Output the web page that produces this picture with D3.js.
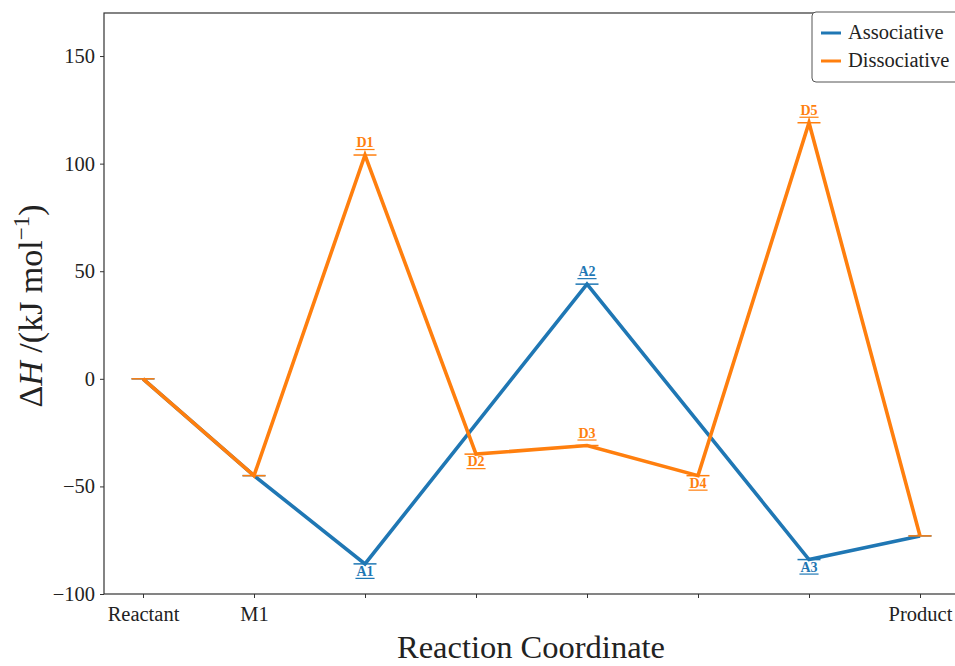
<!DOCTYPE html>
<html>
<head>
<meta charset="utf-8">
<script src="https://cdn.jsdelivr.net/npm/d3@7"></script>
<style>
  html, body { margin: 0; padding: 0; background: #fff; }
  svg { display: block; }
</style>
</head>
<body>
<svg id="chart" width="955" height="666"></svg>
<script>
// Reaction coordinate stages
const stages = ["Reactant", "M1", "TS1", "I1", "TS2", "I2", "TS3", "Product"];
const tickLabels = ["Reactant", "M1", "", "", "", "", "", "Product"];
const yTicks = [-100, -50, 0, 50, 100, 150];

// Enthalpy profiles (kJ/mol); null where a pathway has no stage
const associative = [0, -45, -86, null, 44, null, -84, -73];
const dissociative = [0, -45, 104, -35, -31, -45, 119, -73];

// Stage labels: series, stage index, text, side
const labelSeries = ["A", "A", "A", "D", "D", "D", "D", "D"];
const labelStage = [2, 4, 6, 2, 3, 4, 5, 6];
const labelText = ["A1", "A2", "A3", "D1", "D2", "D3", "D4", "D5"];
const labelSide = ["below", "above", "below", "above", "below", "above", "below", "above"];

const colors = { A: "#1f77b4", D: "#ff7f0e" };
const seriesNames = ["Associative", "Dissociative"];
const SERIF = "'Liberation Serif', 'Times New Roman', serif";

const svg = d3.select("#chart");
const margin = { left: 104, top: 13, right: 959, bottom: 594 };

const x = d3.scalePoint().domain(d3.range(stages.length)).range([143, 920]);
const y = d3.scaleLinear().domain([-100, 170]).range([margin.bottom, margin.top]);

// Axes
const xAxis = d3.axisBottom(x).tickSize(4).tickPadding(4)
  .tickFormat(i => tickLabels[i]);
const yAxis = d3.axisLeft(y).tickValues(yTicks).tickSize(4).tickPadding(5)
  .tickFormat(d => d < 0 ? "\u2212" + Math.abs(d) : d);

const gx = svg.append("g").attr("transform", `translate(0,${margin.bottom})`).call(xAxis);
const gy = svg.append("g").attr("transform", `translate(${margin.left},0)`).call(yAxis);
[gx, gy].forEach(g => {
  g.attr("font-family", SERIF);
  g.select(".domain").remove();
  g.selectAll(".tick line").attr("stroke", "#333").attr("stroke-width", 1);
  g.selectAll(".tick text").attr("font-size", 20.5).attr("fill", "#222")
    .attr("font-family", SERIF);
});
gx.selectAll(".tick text").attr("dy", "0.95em");

// Spines
svg.append("rect")
  .attr("x", margin.left).attr("y", margin.top)
  .attr("width", margin.right - margin.left).attr("height", margin.bottom - margin.top)
  .attr("fill", "none").attr("stroke", "#333").attr("stroke-width", 1.2);

// Lines
const line = d3.line()
  .x(d => x(d.i)).y(d => y(d.v));

const seriesData = [
  { key: "A", values: associative },
  { key: "D", values: dissociative }
];

seriesData.forEach(s => {
  const pts = s.values.map((v, i) => ({ i, v })).filter(d => d.v !== null);
  svg.append("path")
    .datum(pts)
    .attr("d", line)
    .attr("fill", "none")
    .attr("stroke", colors[s.key])
    .attr("stroke-width", 3.6)
    .attr("stroke-linejoin", "miter");
  // horizontal level markers
  svg.append("g").selectAll("line")
    .data(pts).join("line")
    .attr("x1", d => x(d.i) - 11.5).attr("x2", d => x(d.i) + 11.5)
    .attr("y1", d => y(d.v)).attr("y2", d => y(d.v))
    .attr("stroke", colors[s.key]).attr("stroke-width", 1.5);
});

// Stage labels (bold, underlined)
labelText.forEach((t, k) => {
  const s = labelSeries[k];
  const i = labelStage[k];
  const v = (s === "A" ? associative : dissociative)[i];
  const cx = x(i), cy = y(v);
  const above = labelSide[k] === "above";
  const base = above ? cy - 8 : cy + 12;
  const txt = svg.append("text")
    .attr("x", cx).attr("y", base)
    .attr("text-anchor", "middle")
    .attr("font-family", SERIF)
    .attr("font-size", 14).attr("font-weight", "bold")
    .attr("fill", colors[s])
    .text(t);
  const w = txt.node().getComputedTextLength();
  svg.append("line")
    .attr("x1", cx - w / 2 - 1).attr("x2", cx + w / 2 + 1)
    .attr("y1", base + 2.5).attr("y2", base + 2.5)
    .attr("stroke", colors[s]).attr("stroke-width", 1.2);
});

// Axis titles
svg.append("text")
  .attr("x", 531).attr("y", 658)
  .attr("text-anchor", "middle")
  .attr("font-family", SERIF)
  .attr("font-size", 32.5)
  .attr("fill", "#222")
  .text("Reaction Coordinate");

const yl = svg.append("text")
  .attr("transform", "translate(42,306) rotate(-90)")
  .attr("text-anchor", "middle")
  .attr("font-family", SERIF)
  .attr("fill", "#222")
  .attr("font-size", 34);
yl.append("tspan").text("\u0394");
yl.append("tspan").attr("font-style", "italic").text("H");
yl.append("tspan").text(" /(kJ mol");
yl.append("tspan").attr("dy", -13).attr("font-size", 23).text("\u22121");
yl.append("tspan").attr("dy", 13).text(")");

// Legend
const lg = svg.append("g");
lg.append("rect")
  .attr("x", 812).attr("y", 12).attr("width", 160).attr("height", 70)
  .attr("rx", 4).attr("fill", "#fff").attr("stroke", "#555").attr("stroke-width", 1);
seriesNames.forEach((n, k) => {
  const yy = 33 + k * 28;
  lg.append("line")
    .attr("x1", 821).attr("x2", 841).attr("y1", yy).attr("y2", yy)
    .attr("stroke", colors[k === 0 ? "A" : "D"]).attr("stroke-width", 3);
  lg.append("text")
    .attr("x", 848).attr("y", yy + 6)
    .attr("font-family", SERIF)
    .attr("font-size", 20.5)
    .attr("fill", "#222")
    .text(n);
});
</script>
</body>
</html>
